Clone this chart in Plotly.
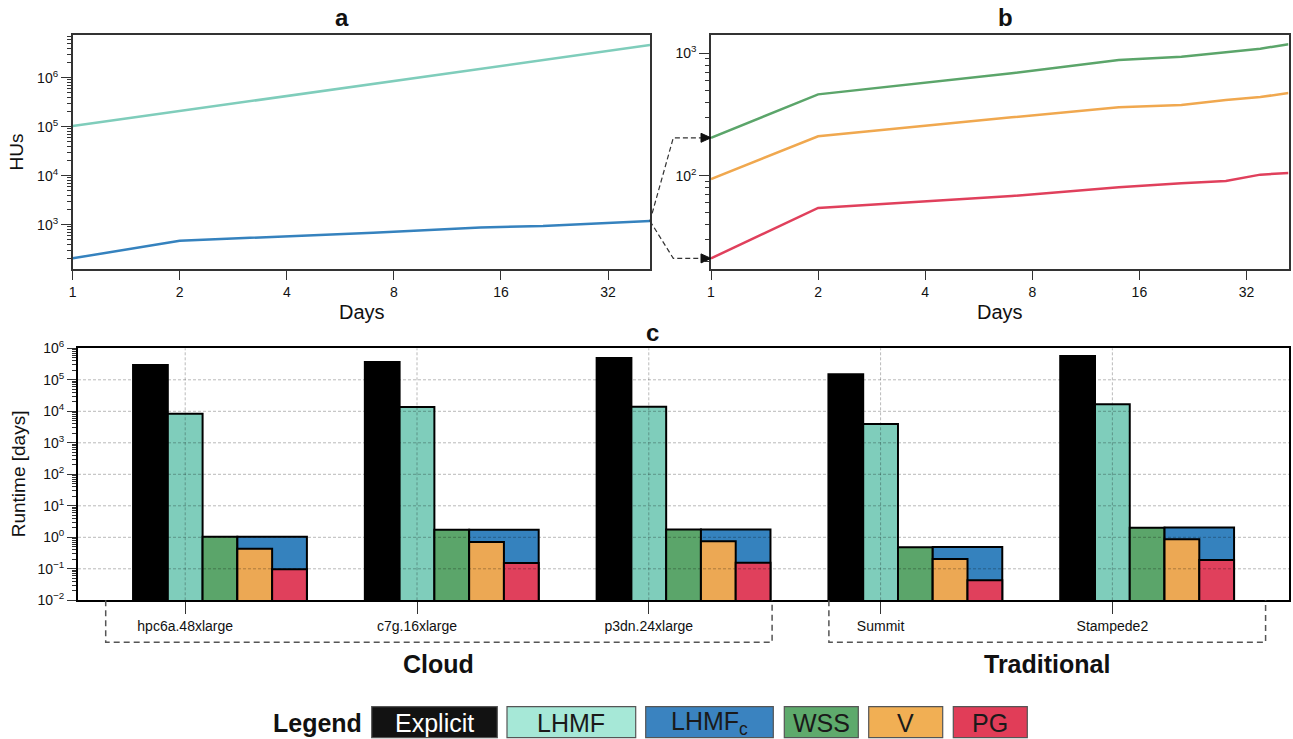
import math
import plotly.graph_objects as go

# ---------------- data ----------------
days = [1, 2, 7, 14, 21, 28, 35, 42]
hus_lhmf = [1.03e5, 2.09e5, 7.45e5, 1.52e6, 2.29e6, 3.07e6, 3.85e6, 4.64e6]
hus_lhmfc = [206, 471, 687, 880, 940, 1030, 1100, 1190]
hus_wss = [204, 462, 687, 881, 938, 1019, 1091, 1186]
hus_v = [94, 210, 300, 362, 378, 415, 439, 474]
hus_pg = [21.1, 54.5, 68.2, 80.4, 86.7, 90.6, 102, 105]
day_ticks = [1, 2, 4, 8, 16, 32]

machines = ["hpc6a.48xlarge", "c7g.16xlarge", "p3dn.24xlarge", "Summit", "Stampede2"]
rt_explicit = [2.96e5, 3.67e5, 4.9e5, 1.5e5, 5.7e5]
rt_lhmf = [8400, 13700, 14000, 3950, 16700]
rt_wss = [1.05, 1.74, 1.76, 0.48, 2.02]
rt_lhmfc = [1.05, 1.74, 1.76, 0.49, 2.05]
rt_v = [0.435, 0.71, 0.746, 0.205, 0.865]
rt_pg = [0.096, 0.153, 0.156, 0.043, 0.19]

groups = ["Cloud", "Traditional"]
group_spans = [(-0.343, 2.532), (2.777, 4.661)]

legend_names = ["Explicit", "LHMF", "LHMF<sub>c</sub>", "WSS", "V", "PG"]
legend_fill = ["#121212", "#a6e8d7", "#3a83c0", "#5eaa6c", "#f1af54", "#e13d58"]
legend_text = ["white", "#1a1a1a", "#1a1a1a", "#1a1a1a", "#1a1a1a", "#1a1a1a"]

C_TEAL = "#7fcdbb"
C_BLUE = "#3582be"
C_GREEN = "#5ba56a"
C_ORANGE = "#eca854"
C_RED = "#e0405c"
C_BLACK = "#000000"

# ---------------- layout helpers ----------------
W, H = 1293, 739
FONT = "Liberation Sans, Arial, sans-serif"


def px(x):
    return x / W


def py(y):
    return 1 - y / H


def pow_label(k):
    s = str(k).replace("-", "\u2212")
    return f"10<sup>{s}</sup>"


XA = (px(72.7), px(650.0))
XB = (px(711.0), px(1288.5))
YAB = (py(268.7), py(34.7))
XC = (px(78.0), px(1289.0))
YC = (py(600.3), py(348.3))
xr_days = [0, math.log10(42)]
yr_a = [2.102, 6.878]
yr_b = [1.240, 3.152]
xr_c = [-0.4625, 4.762]
yr_c = [-2, 6]

dec_a = [3, 4, 5, 6]
dec_b = [2, 3]
dec_c = list(range(-2, 7))

fig = go.Figure()

# panel a
fig.add_trace(go.Scatter(x=days, y=hus_lhmf, mode="lines", line=dict(color=C_TEAL, width=2.5),
                         xaxis="x", yaxis="y"))
fig.add_trace(go.Scatter(x=days, y=hus_lhmfc, mode="lines", line=dict(color=C_BLUE, width=2.5),
                         xaxis="x", yaxis="y"))
# panel b
fig.add_trace(go.Scatter(x=days, y=hus_wss, mode="lines", line=dict(color=C_GREEN, width=2.5),
                         xaxis="x2", yaxis="y2"))
fig.add_trace(go.Scatter(x=days, y=hus_v, mode="lines", line=dict(color="#f0a84f", width=2.5),
                         xaxis="x2", yaxis="y2"))
fig.add_trace(go.Scatter(x=days, y=hus_pg, mode="lines", line=dict(color=C_RED, width=2.5),
                         xaxis="x2", yaxis="y2"))

# panel c bars
w = 0.15
pos = list(range(len(machines)))
bar_specs = [
    (rt_explicit, C_BLACK, -1.5 * w, w),
    (rt_lhmf, C_TEAL, -0.5 * w, w),
    (rt_wss, C_GREEN, 0.5 * w, w),
    (rt_lhmfc, C_BLUE, 1.5 * w, 2 * w),
    (rt_v, C_ORANGE, 1.5 * w, w),
    (rt_pg, C_RED, 2.5 * w, w),
]
for vals, col, off, wid in bar_specs:
    fig.add_trace(go.Bar(x=pos, y=vals, offset=off, width=wid, xaxis="x3", yaxis="y3",
                         marker=dict(color=col, line=dict(color="black", width=2))))

axis_common = dict(showline=True, mirror=True, linecolor="#333333", linewidth=1.5,
                   ticks="outside", tickcolor="#333333", showgrid=False, zeroline=False,
                   automargin=False,
                   tickfont=dict(family=FONT, size=14, color="#111111"))
minor_log = dict(ticks="outside", ticklen=4, tickcolor="#333333", dtick="D1", showgrid=False)
c_axis = {**axis_common, "linecolor": "black", "linewidth": 1.8}

fig.update_layout(
    width=W, height=H, margin=dict(l=0, r=0, t=0, b=0, autoexpand=False),
    paper_bgcolor="white", plot_bgcolor="white", showlegend=False,
    barmode="overlay", font=dict(family=FONT, color="#111111"),
    xaxis=dict(domain=XA, type="log", range=xr_days, tickvals=day_ticks,
               ticktext=[str(d) for d in day_ticks], ticklen=10, anchor="y", **axis_common),
    yaxis=dict(domain=YAB, type="log", range=yr_a, tickvals=[10 ** k for k in dec_a],
               ticktext=[pow_label(k) for k in dec_a],
               ticklen=10, anchor="x", minor=minor_log, **axis_common),
    xaxis2=dict(domain=XB, type="log", range=xr_days, tickvals=day_ticks,
                ticktext=[str(d) for d in day_ticks], ticklen=10, anchor="y2", **axis_common),
    yaxis2=dict(domain=YAB, type="log", range=yr_b, tickvals=[10 ** k for k in dec_b],
                ticktext=[pow_label(k) for k in dec_b],
                ticklen=10, anchor="x2", minor=minor_log, **axis_common),
    xaxis3=dict(domain=XC, range=xr_c, tickvals=pos, ticktext=machines, ticklen=12,
                anchor="y3", **c_axis),
    yaxis3=dict(domain=YC, type="log", range=yr_c, tickvals=[10 ** k for k in dec_c],
                ticktext=[pow_label(k) for k in dec_c],
                ticklen=9, anchor="x3", minor=minor_log, **c_axis),
)

shapes = []
# grid lines in panel c (drawn above bars, translucent)
grid_style = dict(color="rgba(0,0,0,0.35)", width=0.8, dash="3px,2px")
for k in dec_c[1:-1]:
    shapes.append(dict(type="line", xref="x3 domain", x0=0, x1=1, yref="y3", y0=10 ** k, y1=10 ** k,
                       line=grid_style, layer="above"))
for p in pos:
    shapes.append(dict(type="line", xref="x3", x0=p, x1=p, yref="y3 domain", y0=0, y1=1,
                       line=grid_style, layer="above"))

# group brackets
br_bottom = py(642.3)
br_style = dict(color="#555555", width=1.5, dash="6px,4px")
for (x0, x1) in group_spans:
    shapes.append(dict(type="path", xref="x3", yref="paper",
                       path=f"M {x0},{YC[0]} L {x0},{br_bottom} L {x1},{br_bottom} L {x1},{YC[0]}",
                       line=br_style))


# connectors from panel a to panel b
def to_paper(xd, yd, xdom, ydom, xr, yr):
    fx = (math.log10(xd) - xr[0]) / (xr[1] - xr[0])
    fy = (math.log10(yd) - yr[0]) / (yr[1] - yr[0])
    return xdom[0] + fx * (xdom[1] - xdom[0]), ydom[0] + fy * (ydom[1] - ydom[0])


sx, sy = to_paper(days[-1], hus_lhmfc[-1], XA, YAB, xr_days, yr_a)
elbow_x = px(673.3)
ah = px(10)
for target in (hus_wss[0], hus_pg[0]):
    ex, ey = to_paper(days[0], target, XB, YAB, xr_days, yr_b)
    shapes.append(dict(type="path", xref="paper", yref="paper",
                       path=f"M {sx},{sy} L {elbow_x},{ey} L {ex - ah},{ey}",
                       line=dict(color="#333333", width=1.2, dash="5px,3px")))
    hh = 4.5 / H
    shapes.append(dict(type="path", xref="paper", yref="paper",
                       path=f"M {ex},{ey} L {ex - ah},{ey + hh} L {ex - ah},{ey - hh} Z",
                       fillcolor="#111111", line=dict(color="#111111", width=1)))

# legend boxes
box_x = [(371.7, 497.3), (507.0, 635.7), (645.7, 773.3), (784.3, 858.3), (868.7, 942.7), (953.3, 1027.3)]
box_y = (706.7, 737.7)
annotations = []
for (bx0, bx1), name, fc, tc in zip(box_x, legend_names, legend_fill, legend_text):
    shapes.append(dict(type="rect", xref="paper", yref="paper", x0=px(bx0), x1=px(bx1),
                       y0=py(box_y[1]), y1=py(box_y[0]), fillcolor=fc,
                       line=dict(color="#555555", width=1.2)))
    annotations.append(dict(xref="paper", yref="paper", x=px((bx0 + bx1) / 2), y=py(722.5),
                            text=name, showarrow=False, xanchor="center", yanchor="middle",
                            font=dict(family=FONT, size=25, color=tc)))
annotations.append(dict(xref="paper", yref="paper", x=px(317), y=py(722.5), text="<b>Legend</b>",
                        showarrow=False, xanchor="center", yanchor="middle",
                        font=dict(family=FONT, size=25, color="#111111")))


def label(x, y, text, size, angle=0):
    annotations.append(dict(xref="paper", yref="paper", x=px(x), y=py(y), text=text,
                            showarrow=False, xanchor="center", yanchor="middle", textangle=angle,
                            font=dict(family=FONT, size=size, color="#111111")))


label(341.7, 18, "<b>a</b>", 24)
label(1005.7, 18, "<b>b</b>", 24)
label(652.7, 332.7, "<b>c</b>", 24)
label(362, 311.5, "Days", 20)
label(1000.3, 311.5, "Days", 20)
label(16.7, 151.7, "HUs", 19, -90)
label(18, 474.3, "Runtime [days]", 19, -90)

for g, (x0, x1) in zip(groups, group_spans):
    annotations.append(dict(xref="x3", yref="paper", x=(x0 + x1) / 2, y=py(664), text=f"<b>{g}</b>",
                            showarrow=False, xanchor="center", yanchor="middle",
                            font=dict(family=FONT, size=25, color="#111111")))

fig.update_layout(shapes=shapes, annotations=annotations)
fig.write_html("out.html")
